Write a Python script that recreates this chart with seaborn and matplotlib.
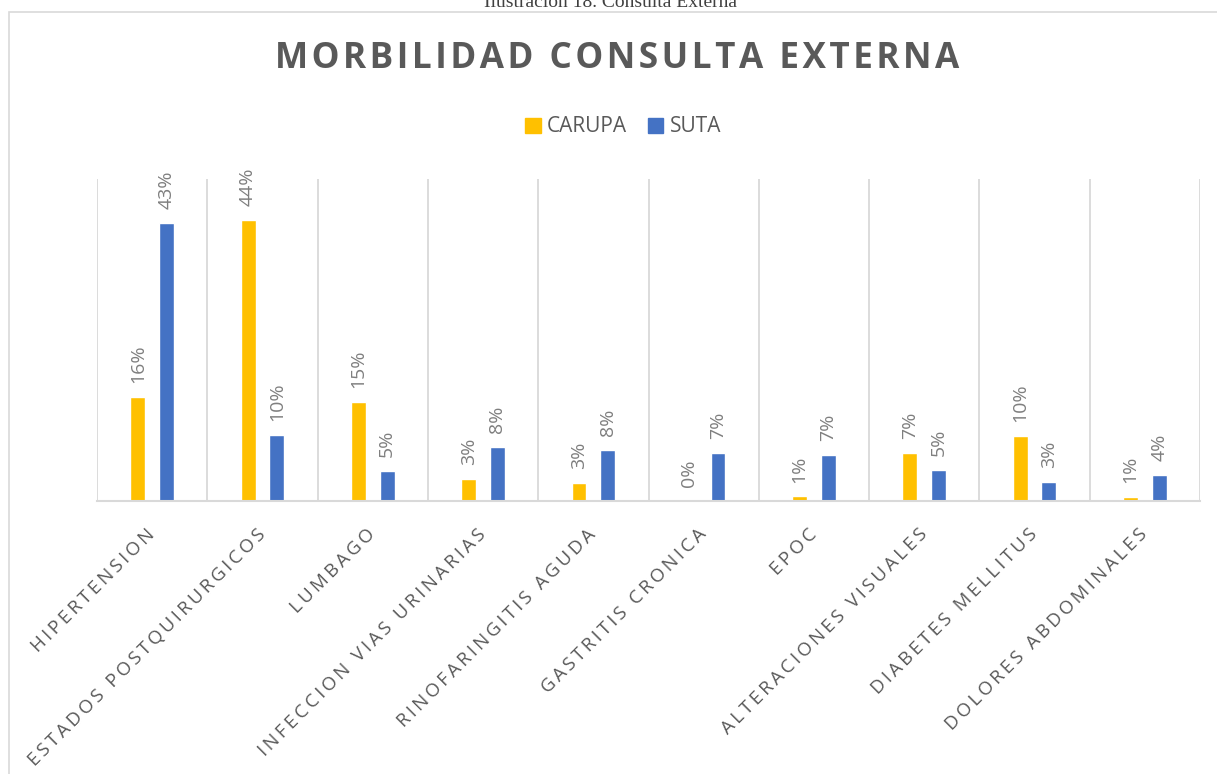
import matplotlib
matplotlib.use("Agg")
import matplotlib.pyplot as plt
import matplotlib.patches as mpatches
import seaborn as sns
import pandas as pd
import numpy as np

categories = ["HIPERTENSION", "ESTADOS POSTQUIRURGICOS", "LUMBAGO",
              "INFECCION VIAS URINARIAS", "RINOFARINGITIS AGUDA",
              "GASTRITIS CRONICA", "EPOC", "ALTERACIONES VISUALES",
              "DIABETES MELLITUS", "DOLORES ABDOMINALES"]
carupa = [16.1, 43.7, 15.4, 3.4, 2.8, 0.0, 0.7, 7.4, 10.1, 0.6]
suta = [43.2, 10.2, 4.6, 8.4, 7.9, 7.4, 7.1, 4.8, 2.9, 4.0]
series = ["CARUPA", "SUTA"]
colors = ["#FFC000", "#4472C4"]

title = "MORBILIDAD CONSULTA EXTERNA"
caption = "Ilustración 18. Consulta Externa"

def spaced(s, sep="\u2009"):
    return sep.join(list(s))

df = pd.DataFrame({
    "cat": categories * 2,
    "serie": [series[0]] * len(categories) + [series[1]] * len(categories),
    "val": carupa + suta,
})

sns.set_style("white")
plt.rcParams["font.family"] = ["Open Sans", "DejaVu Sans"]

W, H = 1217, 774
fig = plt.figure(figsize=(W / 100, H / 100), dpi=100)
ax = fig.add_axes([97 / W, (H - 501) / H, (1200 - 97) / W, (501 - 179) / H])

sns.barplot(data=df, x="cat", y="val", hue="serie", order=categories,
            hue_order=series, palette=colors, width=0.52, gap=0.48,
            ax=ax, legend=False, saturation=1, errorbar=None)

label_color = "#7F7F7F"
for cont, vals in zip(ax.containers, [carupa, suta]):
    ax.bar_label(cont, labels=[f"{round(v):.0f}%" for v in vals], rotation=90,
                 padding=10, color=label_color, fontsize=14)

ax.set_xlim(-0.5, len(categories) - 0.5)
ax.set_ylim(0, 50)
ax.set_xlabel("")
ax.set_ylabel("")
ax.set_yticks([])
ax.set_xticks(range(len(categories)))
ax.set_xticklabels([spaced(c) for c in categories], rotation=45, ha="right",
                   rotation_mode="anchor", va="center", color="#595959",
                   fontsize=13.5)
ax.tick_params(axis="x", length=0, pad=22)
ax.set_xticks(np.arange(-0.5, len(categories), 1), minor=True)
ax.tick_params(axis="x", which="minor", length=0)
ax.grid(False)
ax.grid(True, axis="x", which="minor", color="#D9D9D9", linewidth=1.3)
for s in ["top", "right", "left"]:
    ax.spines[s].set_visible(False)
ax.spines["bottom"].set_color("#D9D9D9")
ax.spines["bottom"].set_linewidth(1.5)

fig.text(617 / W, 1 - 59 / H, spaced(title, "\u200a"), ha="center", va="center",
         fontsize=25.3, fontweight="bold", color="#595959")

handles = [mpatches.Patch(color=c, label=s) for c, s in zip(colors, series)]
fig.legend(handles=handles, loc="center", bbox_to_anchor=(623 / W, 1 - 127 / H),
           ncol=2, frameon=False, handlelength=0.75, handleheight=0.75,
           handletextpad=0.3, columnspacing=1.0, fontsize=15,
           labelcolor="#595959")

fig.text(611 / W, 1 - 7 / H, caption, ha="center", va="baseline",
         fontsize=14, family="Liberation Serif", color="#404040")

border = mpatches.Rectangle((9 / W, -0.05), 1.1, 1 - 12 / H + 0.05,
                            transform=fig.transFigure, fill=False,
                            edgecolor="#D9D9D9", linewidth=1.2)
fig.add_artist(border)

fig.savefig("out.png", dpi=100)
